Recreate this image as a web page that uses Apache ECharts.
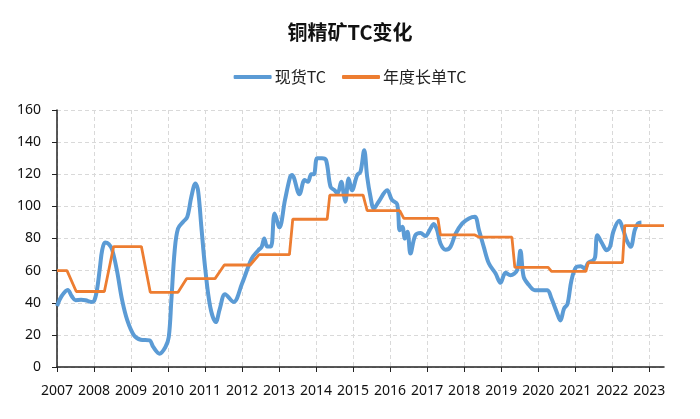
<!DOCTYPE html>
<html>
<head>
<meta charset="utf-8">
<script src="https://cdn.jsdelivr.net/npm/echarts@6/dist/echarts.min.js"></script>
<style>
html,body{margin:0;padding:0;background:#fff;}
#c{width:700px;height:419px;}
</style>
</head>
<body>
<div id="c"></div>
<script>
// ---- data ----
const titleText = '铜精矿TC变化';
const seriesNames = ['现货TC', '年度长单TC'];
const yearTicks = [2007,2008,2009,2010,2011,2012,2013,2014,2015,2016,2017,2018,2019,2020,2021,2022,2023];

// spot TC: time (decimal year) and value
const spotTime = [2007.00,2007.12,2007.29,2007.40,2007.50,2007.65,2007.77,2007.92,2008.00,2008.08,2008.16,2008.22,2008.30,2008.40,2008.49,2008.62,2008.76,2008.90,2009.08,2009.26,2009.50,2009.60,2009.77,2009.93,2010.02,2010.09,2010.18,2010.27,2010.41,2010.52,2010.63,2010.74,2010.81,2010.90,2011.00,2011.14,2011.29,2011.40,2011.54,2011.77,2012.00,2012.26,2012.44,2012.53,2012.60,2012.68,2012.78,2012.88,2013.01,2013.16,2013.30,2013.35,2013.55,2013.69,2013.78,2013.87,2013.94,2014.03,2014.16,2014.27,2014.39,2014.50,2014.58,2014.68,2014.75,2014.79,2014.88,2014.97,2015.11,2015.20,2015.30,2015.38,2015.47,2015.56,2015.69,2015.92,2016.05,2016.19,2016.26,2016.33,2016.40,2016.47,2016.55,2016.68,2016.82,2016.95,2017.09,2017.18,2017.27,2017.36,2017.50,2017.63,2017.77,2017.95,2018.13,2018.29,2018.40,2018.53,2018.67,2018.85,2018.98,2019.12,2019.25,2019.43,2019.52,2019.61,2019.75,2019.91,2020.09,2020.25,2020.36,2020.50,2020.60,2020.70,2020.79,2020.90,2021.02,2021.15,2021.26,2021.35,2021.49,2021.54,2021.60,2021.73,2021.85,2021.94,2022.03,2022.19,2022.30,2022.39,2022.50,2022.61,2022.70,2022.79];
const spotValue = [38,44,48,44,41.6,41.8,41.6,40.5,41,48,62,72.7,77.5,76.5,73,60,41.6,29,19.7,17,16.6,12.5,8.3,12.5,18.7,41.6,72.7,86.2,90.4,93.5,106,114.3,110,87.3,62.3,37.4,28,36.4,45.3,40.5,52,67.5,72.7,74.8,80,75,75,95.6,87,104,118.4,119.5,107.6,116.4,115.3,120,120,130,130,128.8,112.2,110,108,115.3,107,102.9,117.4,110,119.5,121.6,135,118.4,106,98.7,102.9,110,104,101.4,85.2,87.3,80,84.2,70.6,82,83.5,81.5,86.2,89,85.2,76.9,73,74.8,83,89.4,92.5,93.5,85.2,74.8,64.4,58.2,52.4,58.6,57.1,60.3,72.3,56,51,47.8,47.8,47.8,42.6,34.3,29,36.4,39,54,62,62.8,61.3,64.8,66.5,68.6,82,76.9,72.7,74.8,84.2,91,85.2,79,74.8,85.2,89.4,90];

// annual benchmark TC: time (decimal year) and value
const annualTime = [2007.00,2007.27,2007.52,2008.28,2008.53,2009.28,2009.52,2010.27,2010.50,2011.27,2011.52,2012.22,2012.46,2013.28,2013.37,2014.30,2014.37,2015.27,2015.38,2016.26,2016.37,2017.29,2017.36,2018.29,2018.41,2019.29,2019.37,2020.27,2020.36,2021.29,2021.35,2022.28,2022.34,2023.40];
const annualValue = [60,60,47,47,75,75,46.5,46.5,55,55,63.5,63.5,70,70,92,92,107,107,97.35,97.35,92.5,92.5,82.25,82.25,80.8,80.8,62,62,59.5,59.5,65,65,88,88];

const yMin = 0, yMax = 160, yStep = 20;
const xMin = 2007, xMax = 2023.4;

// ---- chart ----
const chart = echarts.init(document.getElementById('c'), null, {renderer: 'canvas'});
const font = '"Noto Sans", "Noto Sans CJK SC", sans-serif';
const cjk = '"Noto Sans CJK SC", sans-serif';
const gridLine = {show: true, lineStyle: {color: '#d9d9d9', type: [4, 3], width: 1}};
chart.setOption({
  animation: false,
  backgroundColor: '#ffffff',
  title: {
    text: titleText,
    left: 'center',
    top: 17,
    textStyle: {fontFamily: cjk, fontSize: 20, fontWeight: 'bold', color: '#111'}
  },
  legend: {
    top: 64,
    left: 'center',
    itemWidth: 38,
    itemHeight: 4,
    itemGap: 16,
    icon: 'roundRect',
    textStyle: {fontFamily: cjk, fontSize: 16, color: '#222', padding: [0, 0, 0, -2]},
    data: seriesNames
  },
  grid: {left: 57, right: 36, top: 110, bottom: 52, containLabel: false},
  xAxis: {
    type: 'value',
    min: xMin,
    max: xMax,
    interval: 1,
    axisLine: {show: true, lineStyle: {color: '#222', width: 1.5}},
    axisTick: {show: true, length: 5, lineStyle: {color: '#222'}, customValues: yearTicks},
    axisLabel: {
      customValues: yearTicks,
      margin: 17,
      fontFamily: font, fontSize: 14, color: '#111',
      formatter: v => (Math.abs(v - Math.round(v)) < 1e-6 ? String(Math.round(v)) : '')
    },
    splitLine: gridLine
  },
  yAxis: {
    type: 'value',
    min: yMin, max: yMax, interval: yStep,
    axisLine: {show: true, lineStyle: {color: '#222', width: 1.5}},
    axisTick: {show: true, length: 5, lineStyle: {color: '#222'}},
    axisLabel: {margin: 16, fontFamily: font, fontSize: 14, color: '#111'},
    splitLine: gridLine
  },
  series: [
    {
      name: seriesNames[0],
      type: 'line',
      data: spotTime.map((t, i) => [t, spotValue[i]]),
      showSymbol: false,
      smooth: 0.35,
      lineStyle: {color: '#5b9bd5', width: 4},
      itemStyle: {color: '#5b9bd5'},
      z: 2
    },
    {
      name: seriesNames[1],
      type: 'line',
      data: annualTime.map((t, i) => [t, annualValue[i]]),
      showSymbol: false,
      lineStyle: {color: '#ed7d31', width: 2.8},
      itemStyle: {color: '#ed7d31'},
      z: 3
    }
  ]
});
</script>
</body>
</html>
